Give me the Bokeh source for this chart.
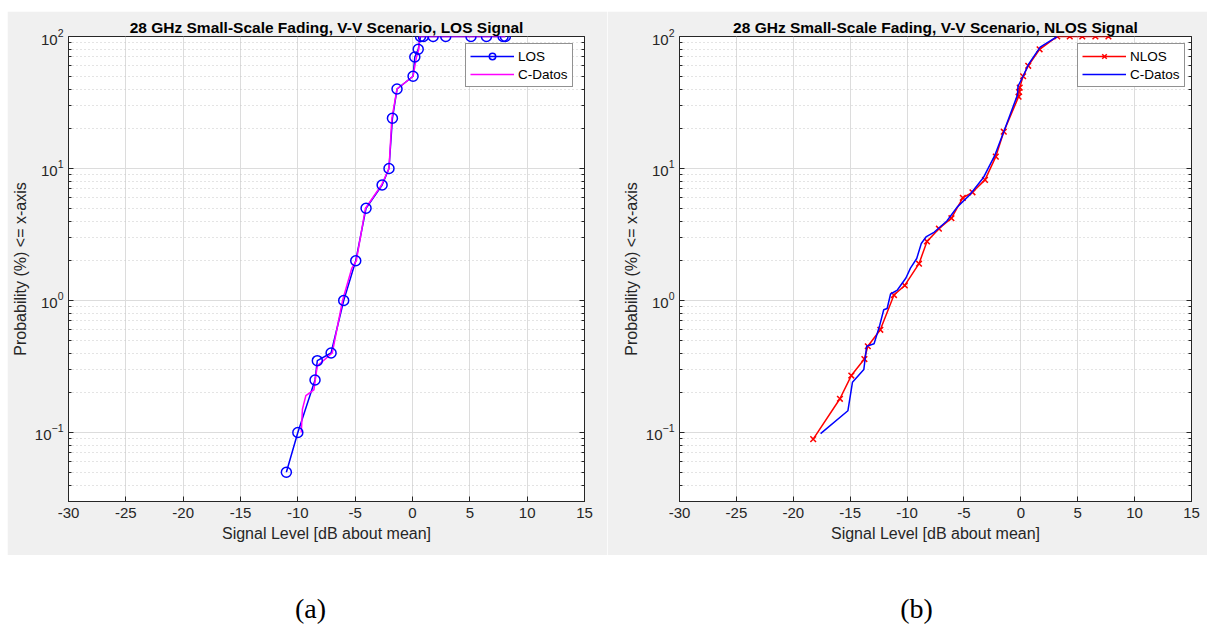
from bokeh.plotting import figure
from bokeh.layouts import column, row, Spacer
from bokeh.models import (Range1d, FixedTicker, LinearAxis, Legend, LegendItem,
                          LogTickFormatter, CustomJSTickFormatter)
from bokeh.core.properties import value
from bokeh.embed import file_html
from bokeh.resources import INLINE

# ---- data: LOS panel -------------------------------------------------------
los_x = [-11.0, -10.0, -8.5, -8.3, -7.1, -6.0, -4.95, -4.05, -2.65, -2.05, -1.75, -1.35,
         0.05, 0.2, 0.5, 0.7, 0.95, 1.8, 2.9, 5.1, 6.45, 7.9, 8.1]
los_p = [0.05, 0.1, 0.25, 0.35, 0.4, 1.0, 2.0, 5.0, 7.5, 10, 24, 40,
         50, 70, 80, 100, 100, 100, 100, 100, 100, 100, 100]

cdatos_los_x = [-9.7, -9.6, -9.3, -8.6, -8.4, -8.3, -7.0, -6.1, -5.3, -4.9, -4.1, -2.7,
                -2.05, -1.8, -1.35, 0.05, 0.35, 0.55, 0.6, 2.0, 5.0, 8.1]
cdatos_los_p = [0.1, 0.15, 0.19, 0.21, 0.28, 0.32, 0.4, 1.0, 1.75, 2.0, 5.0, 7.5,
                10, 24, 40, 50, 70, 80, 100, 100, 100, 100]

# ---- data: NLOS panel ------------------------------------------------------
nlos_x = [-18.25, -15.9, -14.9, -13.75, -13.45, -12.35, -11.15, -10.2, -8.95, -8.25, -7.2,
          -6.1, -5.1, -4.25, -3.15, -2.2, -1.5, -0.2, -0.15, -0.1, 0.2, 0.65, 1.65,
          3.2, 4.3, 5.4, 6.55, 7.7]
nlos_p = [0.089, 0.18, 0.27, 0.36, 0.45, 0.6, 1.1, 1.3, 1.9, 2.8, 3.5,
          4.2, 6.0, 6.6, 8.2, 12.3, 19, 35, 38, 41, 50, 60, 80,
          100, 100, 100, 100, 100]

cdatos_nlos_x = [-17.6, -15.2, -14.8, -13.8, -13.55, -12.9, -12.4, -12.05, -11.75, -11.45,
                 -10.85, -10.1, -9.7, -9.15, -8.75, -8.3, -7.6, -6.5, -5.6, -4.5, -3.3,
                 -2.3, -1.5, -0.3, -0.25, 0.2, 0.7, 1.7, 3.2]
cdatos_nlos_p = [0.098, 0.146, 0.24, 0.3, 0.45, 0.47, 0.65, 0.85, 0.87, 1.12,
                 1.2, 1.48, 1.76, 2.08, 2.7, 3.05, 3.3, 4.0, 5.1, 6.3, 8.5,
                 12.5, 19, 36, 42, 50, 62, 83, 100]

x_ticks = [-30, -25, -20, -15, -10, -5, 0, 5, 10, 15]
y_ticks = [0.1, 1, 10, 100]
y_minor = [m * d for d in (0.01, 0.1, 1, 10) for m in range(2, 10) if 0.03 <= m * d < 100]

FONT = "Liberation Sans"
BG = "#f0f0f0"
AX = "#262626"


def make_panel(title, left_border, right_border):
    p = figure(width=600, height=544, y_axis_type="log",
               x_range=Range1d(-30, 15), y_range=Range1d(0.03, 100),
               output_backend="svg", toolbar_location=None,
               min_border_left=left_border, min_border_right=right_border,
               min_border_top=25, min_border_bottom=54)
    p.background_fill_color = "white"
    p.border_fill_color = BG
    p.outline_line_color = AX
    p.outline_line_width = 1

    p.title.text = title
    p.title.align = "center"
    p.title.text_font = FONT
    p.title.text_font_size = "15.5px"
    p.title.text_font_style = "bold"
    p.title.text_color = "black"
    p.title.standoff = 1

    xa = p.xaxis[0]
    xa.ticker = FixedTicker(ticks=x_ticks)
    xa.formatter = CustomJSTickFormatter(code="return tick.toString();")
    xa.axis_label = "Signal Level [dB about mean]"
    ya = p.yaxis[0]
    ya.ticker = FixedTicker(ticks=y_ticks, minor_ticks=y_minor)
    ya.formatter = LogTickFormatter()
    ya.axis_label = "Probability (%) <= x-axis"
    for a in (xa, ya):
        a.axis_line_color = AX
        a.major_tick_in = 5
        a.major_tick_out = 0
        a.minor_tick_in = 3
        a.minor_tick_out = 0
        a.major_tick_line_color = AX
        a.minor_tick_line_color = AX
        a.major_label_text_font = FONT
        a.major_label_text_font_size = "15px"
        a.major_label_text_color = AX
        a.axis_label_text_font = FONT
        a.axis_label_text_font_size = "16px"
        a.axis_label_text_font_style = "normal"
        a.axis_label_text_color = AX
    xa.minor_tick_line_color = None
    xa.major_label_standoff = 6
    xa.axis_label_standoff = 4
    ya.major_label_standoff = 5
    ya.axis_label_standoff = 3

    # mirrored ticks on the right side of the box (no labels)
    ra = LinearAxis(ticker=FixedTicker(ticks=y_ticks, minor_ticks=y_minor),
                    formatter=CustomJSTickFormatter(code="return '';"),
                    major_label_standoff=0,
                    axis_line_color=AX, major_tick_in=5, major_tick_out=0,
                    minor_tick_in=3, minor_tick_out=0,
                    major_tick_line_color=AX, minor_tick_line_color=AX)
    p.add_layout(ra, "right")

    p.xgrid.ticker = FixedTicker(ticks=x_ticks)
    p.xgrid.grid_line_color = "#dcdcdc"
    p.ygrid.ticker = FixedTicker(ticks=y_ticks, minor_ticks=y_minor)
    p.ygrid.grid_line_color = "#dcdcdc"
    p.ygrid.minor_grid_line_color = "#c8c8c8"
    p.ygrid.minor_grid_line_dash = "1 3"
    return p


# ---- left panel: LOS --------------------------------------------------------
p1 = make_panel("28 GHz Small-Scale Fading, V-V Scenario, LOS Signal", 61, 23)
l_los = p1.line(los_x, los_p, line_color="#0000ff", line_width=1.5)
l_cd1 = p1.line(cdatos_los_x, cdatos_los_p, line_color="#ff00ff", line_width=1.5)
m_los = p1.scatter(los_x, los_p, marker="circle", size=10, fill_color=None,
                   line_color="#0000ff", line_width=1.5)
leg1 = Legend(items=[LegendItem(label="LOS", renderers=[l_los, m_los]),
                     LegendItem(label="C-Datos", renderers=[l_cd1])],
              location=(397, 414))
p1.add_layout(leg1)

# ---- right panel: NLOS ------------------------------------------------------
p2 = make_panel("28 GHz Small-Scale Fading, V-V Scenario, NLOS Signal", 72, 16)
l_nlos = p2.line(nlos_x, nlos_p, line_color="#ff0000", line_width=1.5)
m_nlos = p2.scatter(nlos_x, nlos_p, marker="x", size=8, line_color="#ff0000",
                    line_width=1.5)
l_cd2 = p2.line(cdatos_nlos_x, cdatos_nlos_p, line_color="#0000ff", line_width=1.5)
leg2 = Legend(items=[LegendItem(label="NLOS", renderers=[l_nlos, m_nlos]),
                     LegendItem(label="C-Datos", renderers=[l_cd2])],
              location=(398, 414))
p2.add_layout(leg2)

for lg in (leg1, leg2):
    lg.background_fill_color = "white"
    lg.background_fill_alpha = 1
    lg.border_line_color = AX
    lg.border_line_width = 1
    lg.label_text_font = FONT
    lg.label_text_font_size = "13.5px"
    lg.label_text_color = "black"
    lg.glyph_width = 44
    lg.glyph_height = 16
    lg.label_height = 16
    lg.label_standoff = 4
    lg.spacing = 2
    lg.padding = 4
    lg.margin = 0

# ---- sub-figure captions ----------------------------------------------------
cap = figure(width=1207, height=72, x_range=Range1d(0, 1207), y_range=Range1d(0, 72),
             output_backend="svg", toolbar_location=None, min_border=0)
cap.axis.visible = False
cap.grid.visible = False
cap.outline_line_color = None
cap.background_fill_color = "white"
cap.border_fill_color = "white"
cap.text(x=[310, 916], y=[19, 19], text=["(a)", "(b)"],
         text_font=value("Liberation Serif"), text_font_size="28px",
         text_align="center", text_baseline="middle", text_color="black")

layout = column(Spacer(width=1207, height=11),
                row(Spacer(width=7, height=544), p1, p2),
                cap)

open("out.html", "w").write(file_html(layout, INLINE))
